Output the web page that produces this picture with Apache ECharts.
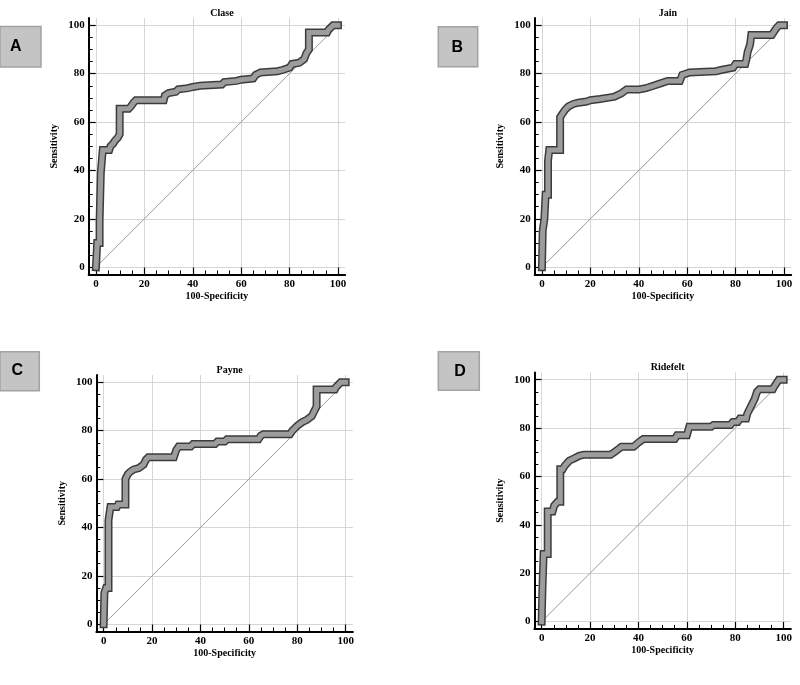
<!DOCTYPE html>
<html><head><meta charset="utf-8">
<script src="https://cdn.jsdelivr.net/npm/echarts@6/dist/echarts.min.js"></script>
<style>html,body{margin:0;padding:0;background:#fff}#c{width:800px;height:685px}</style>
</head><body><div id="c"></div><script>
// ---- data ----
const panelTitles = ['Clase', 'Jain', 'Payne', 'Ridefelt'];
const panelLetters = ['A', 'B', 'C', 'D'];
const majorTicks = [0, 20, 40, 60, 80, 100];
const minorTicks = [5, 10, 15, 25, 30, 35, 45, 50, 55, 65, 70, 75, 85, 90, 95];
const xAxisName = '100-Specificity';
const yAxisName = 'Sensitivity';
const diagonal = [[0, 0], [100, 100]];

const claseRoc = [[0,0],[0.5,0],[0.5,10],[1.5,10],[1.5,19],[2,19],[2,39],[2.8,39],[2.8,48.5],[5.5,48.5],[6,50],[7,51],[8,52.5],[9,53.5],[9.8,55],[9.8,65.5],[13.5,65.5],[14.5,66.5],[15.5,68],[16.5,69],[28,69],[28.5,71],[30,72],[33,72.5],[34,73.5],[38,74],[40,74.5],[43,75],[52,75.5],[53,76.5],[58,77],[60,77.5],[65,78],[66,79.5],[68,80.5],[75,81],[77,81.5],[80,82.5],[81,84],[84,84.5],[86,86],[87,88.5],[88,90],[88,97],[95.5,97],[96,98],[97,99],[98,100],[100,100]];
const jainRoc = [[0,0],[0.3,0],[0.3,15],[1,15],[1,20],[1.5,20],[1.5,30],[2.5,30],[2.5,44],[3,44],[3,48.5],[7.5,48.5],[7.5,62],[8.5,63.5],[9.5,65],[11,66.5],[13,67.5],[15,68],[18.5,68.5],[20,69],[24,69.5],[27,70],[30,70.5],[33,72],[35,73.5],[40,73.5],[43,74],[46,75],[49,76],[52,77],[57,77],[58,79.5],[61,80.5],[72,81],[74,81.5],[79,82.5],[80,84],[84,84],[84.5,86],[85,89],[86,92],[86.5,96],[95,96],[96,97.5],[97,99],[98,100],[100,100]];
const payneRoc = [[0,0],[0.3,0],[0.3,13],[1,13],[1,15],[2,15],[2,43],[2.8,43],[2.8,48.5],[5.5,48.5],[6,49.5],[9,49.5],[9,60],[10,62],[11,63],[12.5,64],[14.5,64.5],[16.5,66],[17.5,68],[18.5,69],[29,69],[30,72],[31,73.5],[36,73.5],[37,74.5],[46,74.5],[47,75.5],[50,75.5],[51,76.5],[64,76.5],[65,78],[66,78.5],[77,78.5],[78,80],[79,81],[80,82],[82,83.5],[84,84.5],[86,86],[87,88],[88,90],[88,97],[95.5,97],[96,98],[97,99],[98,100],[100,100]];
const ridefeltRoc = [[0,0],[0.3,0],[0.3,13],[0.8,13],[0.8,28],[2.5,28],[2.5,45.5],[4.5,45.5],[5.2,48],[6.6,49.5],[7.7,49.5],[7.7,63],[8.7,63],[9.6,64.5],[11.4,66.5],[13.5,67.5],[15.5,68.5],[17.5,69],[28.5,69],[30,70],[32,71.5],[33,72.3],[38,72.3],[40,74],[42,75.5],[55,75.5],[56,77],[60,77],[61,80.5],[70,80.5],[71,81.3],[78,81.3],[79,82.5],[81,82.5],[82,84],[84.5,84],[85,86],[86,88],[87,90],[88,92],[89,95],[90,96],[95.5,96],[96,97],[97,98.5],[98,100],[100,100]];
const rocCurves = [claseRoc, jainRoc, payneRoc, ridefeltRoc];

// ---- layout ----
const grids = [
  {left: 88.7, top: 18, width: 256.5, height: 256.5},
  {left: 534.7, top: 18, width: 256.5, height: 256.5},
  {left: 96.4, top: 375, width: 256.5, height: 256.5},
  {left: 534.4, top: 372.4, width: 256.5, height: 256.5}
];
const titleTops = [3, 3, 360.5, 357.5];
const boxes = [
  {x: 0, y: 26.5, w: 41, h: 40.5, tx: 15.7, ty: 47},
  {x: 438.3, y: 26.7, w: 39.4, h: 40, tx: 457.3, ty: 47.3},
  {x: 0, y: 351.7, w: 39.3, h: 39, tx: 17.3, ty: 371},
  {x: 438.3, y: 351.7, w: 41, h: 38.5, tx: 460, ty: 372}
];

const serifBold = {fontFamily: 'Liberation Serif', fontWeight: 'bold', color: '#000'};

const option = {
  animation: false,
  backgroundColor: '#fff',
  grid: grids.map(g => Object.assign({containLabel: false}, g)),
  title: panelTitles.map((t, i) => ({
    text: t,
    left: grids[i].left + grids[i].width / 2,
    top: titleTops[i],
    textAlign: 'center',
    textStyle: Object.assign({fontSize: 10}, serifBold)
  })),
  xAxis: [],
  yAxis: [],
  series: [],
  graphic: []
};

grids.forEach((g, i) => {
  option.xAxis.push({
    gridIndex: i, type: 'value', min: -3, max: 103, position: 'bottom',
    axisLine: {show: true, onZero: false, lineStyle: {color: '#000', width: 2}},
    axisTick: {show: true, inside: true, length: 7, customValues: majorTicks, lineStyle: {color: '#000', width: 1.2}},
    axisLabel: {customValues: majorTicks, margin: 4, fontSize: 11, fontFamily: 'Liberation Serif', fontWeight: 'bold', color: '#000'},
    splitLine: {show: true, lineStyle: {color: '#d6d6d6', width: 1}},
    name: xAxisName, nameLocation: 'middle', nameGap: 17,
    nameTextStyle: Object.assign({fontSize: 10}, serifBold)
  });
  option.xAxis.push({
    gridIndex: i, type: 'value', min: -3, max: 103, position: 'bottom',
    axisLine: {show: false, onZero: false},
    axisTick: {show: true, inside: true, length: 4, customValues: minorTicks, lineStyle: {color: '#000', width: 1}},
    axisLabel: {show: false},
    splitLine: {show: false}
  });
  option.yAxis.push({
    gridIndex: i, type: 'value', min: -3, max: 103, position: 'left',
    axisLine: {show: true, onZero: false, lineStyle: {color: '#000', width: 2}},
    axisTick: {show: true, inside: true, length: 7, customValues: majorTicks, lineStyle: {color: '#000', width: 1.2}},
    axisLabel: {customValues: majorTicks, margin: 4, fontSize: 11, fontFamily: 'Liberation Serif', fontWeight: 'bold', color: '#000'},
    splitLine: {show: true, lineStyle: {color: '#d6d6d6', width: 1}},
    name: yAxisName, nameLocation: 'middle', nameGap: 29,
    nameTextStyle: Object.assign({fontSize: 10}, serifBold)
  });
  option.yAxis.push({
    gridIndex: i, type: 'value', min: -3, max: 103, position: 'left',
    axisLine: {show: false, onZero: false},
    axisTick: {show: true, inside: true, length: 4, customValues: minorTicks, lineStyle: {color: '#000', width: 1}},
    axisLabel: {show: false},
    splitLine: {show: false}
  });
  option.series.push({
    type: 'line', xAxisIndex: 2 * i, yAxisIndex: 2 * i, data: diagonal,
    symbol: 'none', silent: true, z: 2,
    lineStyle: {color: '#9a9a9a', width: 1}
  });
  option.series.push({
    type: 'line', xAxisIndex: 2 * i, yAxisIndex: 2 * i, data: rocCurves[i],
    symbol: 'none', silent: true, z: 3, clip: false,
    lineStyle: {color: '#3c3c3c', width: 8, cap: 'square', join: 'miter'}
  });
  option.series.push({
    type: 'line', xAxisIndex: 2 * i, yAxisIndex: 2 * i, data: rocCurves[i],
    symbol: 'none', silent: true, z: 4, clip: false,
    lineStyle: {color: '#9c9c9c', width: 5, cap: 'square', join: 'miter'}
  });
  const b = boxes[i];
  option.graphic.push({
    type: 'rect', shape: {x: b.x, y: b.y, width: b.w, height: b.h},
    style: {fill: '#c4c4c4', stroke: '#a2a2a2', lineWidth: 1.5}, z: 10
  });
  option.graphic.push({
    type: 'text', x: b.tx, y: b.ty, z: 11,
    style: {text: panelLetters[i], fill: '#000', font: 'bold 16px "Liberation Sans"', textAlign: 'center', textVerticalAlign: 'middle'}
  });
});

const chart = echarts.init(document.getElementById('c'), null, {renderer: 'canvas'});
chart.setOption(option);
</script></body></html>
